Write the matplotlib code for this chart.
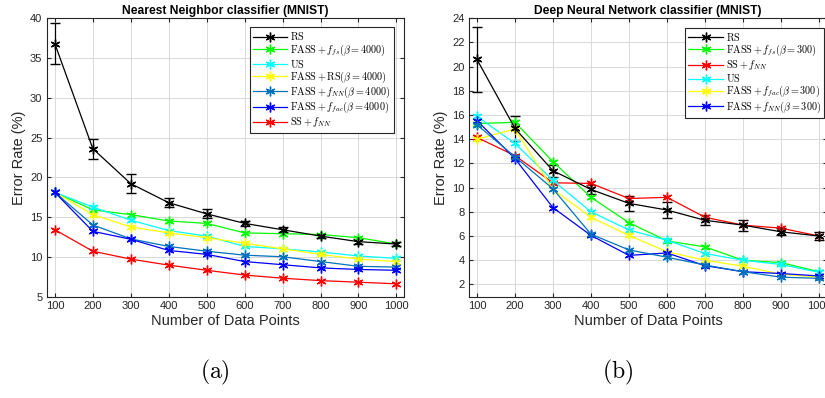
import matplotlib
matplotlib.use("Agg")
import matplotlib.pyplot as plt
import numpy as np

plt.rcParams['font.family'] = ['Liberation Sans', 'DejaVu Sans']
plt.rcParams['mathtext.fontset'] = 'cm'

n_points = [100, 200, 300, 400, 500, 600, 700, 800, 900, 1000]

# (a) nearest neighbour classifier
nn_rs = [36.8, 23.6, 19.2, 16.8, 15.4, 14.2, 13.4, 12.6, 11.9, 11.6]
nn_rs_err = [2.6, 1.25, 1.15, 0.6, 0.55, 0.35, 0.3, 0.3, 0.35, 0.3]
nn_fass_fs = [18.1, 15.9, 15.3, 14.5, 14.2, 13.0, 12.9, 12.8, 12.4, 11.6]
nn_us = [18.1, 16.25, 14.6, 13.3, 12.6, 11.3, 11.0, 10.6, 10.1, 9.8]
nn_fass_rs = [18.1, 15.3, 13.75, 13.0, 12.4, 11.7, 11.0, 10.3, 9.7, 9.4]
nn_fass_nn = [18.1, 14.0, 12.25, 11.3, 10.7, 10.2, 10.0, 9.4, 8.8, 8.7]
nn_fass_fac = [18.1, 13.2, 12.2, 10.8, 10.3, 9.4, 9.0, 8.6, 8.4, 8.3]
nn_ss_nn = [13.4, 10.7, 9.7, 8.95, 8.3, 7.7, 7.3, 7.0, 6.8, 6.6]
nn_labels = [r'$\mathrm{RS}$', r'$\mathrm{FASS}+f_{fs}(\beta=4000)$', r'$\mathrm{US}$',
             r'$\mathrm{FASS}+\mathrm{RS}(\beta=4000)$', r'$\mathrm{FASS}+f_{NN}(\beta=4000)$',
             r'$\mathrm{FASS}+f_{fac}(\beta=4000)$', r'$\mathrm{SS}+f_{NN}$']

# (b) deep neural network classifier
dnn_rs = [20.6, 14.9, 11.4, 9.85, 8.7, 8.15, 7.3, 6.9, 6.35, 6.0]
dnn_rs_err = [2.7, 1.05, 0.5, 0.4, 0.6, 0.7, 0.4, 0.45, 0.3, 0.3]
dnn_fass_fs = [15.3, 15.4, 12.15, 9.2, 7.1, 5.6, 5.1, 4.0, 3.8, 3.05]
dnn_ss_nn = [14.15, 12.65, 10.4, 10.35, 9.1, 9.2, 7.55, 6.9, 6.65, 6.0]
dnn_us = [15.9, 13.65, 10.6, 8.0, 6.5, 5.65, 4.55, 4.0, 3.65, 3.0]
dnn_fass_fac = [14.0, 14.85, 9.85, 7.55, 6.05, 4.7, 4.0, 3.5, 2.85, 2.6]
dnn_fass_nn = [15.55, 12.4, 8.35, 6.05, 4.4, 4.6, 3.55, 3.05, 2.9, 2.7]
dnn_extra = [15.2, 12.55, 9.9, 6.15, 4.85, 4.25, 3.6, 3.05, 2.6, 2.5]
dnn_labels = [r'$\mathrm{RS}$', r'$\mathrm{FASS}+f_{fs}(\beta=300)$', r'$\mathrm{SS}+f_{NN}$',
              r'$\mathrm{US}$', r'$\mathrm{FASS}+f_{fac}(\beta=300)$',
              r'$\mathrm{FASS}+f_{NN}(\beta=300)$']

steel = '#0072BD'
ast = (6, 2, 0)
dark = '#262626'

fig = plt.figure(figsize=(8.25, 3.98), dpi=100)
ax1 = fig.add_axes([0.0573, 0.255, 0.4324, 0.699])
ax2 = fig.add_axes([0.5689, 0.255, 0.4331, 0.699])

kw = dict(marker=ast, markersize=7, linewidth=0.9, markeredgewidth=1.0)

h1 = []
h1.append(ax1.errorbar(n_points, nn_rs, yerr=nn_rs_err, color='black', capsize=3.5,
                       elinewidth=0.9, **kw)[0])
h1 += ax1.plot(n_points, nn_fass_fs, color='#00ff00', **kw)
h1 += ax1.plot(n_points, nn_us, color='cyan', **kw)
h1 += ax1.plot(n_points, nn_fass_rs, color='yellow', **kw)
h1 += ax1.plot(n_points, nn_fass_nn, color=steel, **kw)
h1 += ax1.plot(n_points, nn_fass_fac, color='blue', **kw)
h1 += ax1.plot(n_points, nn_ss_nn, color='red', **kw)

h2 = []
h2.append(ax2.errorbar(n_points, dnn_rs, yerr=dnn_rs_err, color='black', capsize=3.5,
                       elinewidth=0.9, **kw)[0])
h2 += ax2.plot(n_points, dnn_fass_fs, color='#00ff00', **kw)
h2 += ax2.plot(n_points, dnn_ss_nn, color='red', **kw)
h2 += ax2.plot(n_points, dnn_us, color='cyan', **kw)
h2 += ax2.plot(n_points, dnn_fass_fac, color='yellow', **kw)
h2 += ax2.plot(n_points, dnn_fass_nn, color='blue', **kw)
ax2.plot(n_points, dnn_extra, color=steel, **kw)

for ax, title, ylim, yt in [
        (ax1, 'Nearest Neighbor classifier (MNIST)', (5, 40), np.arange(5, 41, 5)),
        (ax2, 'Deep Neural Network classifier (MNIST)', (1, 24), np.arange(2, 25, 2))]:
    ax.set_xlim(80, 1020)
    ax.set_ylim(*ylim)
    ax.set_xticks(n_points)
    ax.set_yticks(yt)
    ax.grid(True, color='#d9d9d9', linewidth=0.7)
    ax.set_axisbelow(True)
    ax.tick_params(direction='in', labelsize=8, colors=dark, length=3,
                   top=True, right=True)
    for s in ax.spines.values():
        s.set_color(dark)
        s.set_linewidth(0.8)
    ax.set_title(title, fontsize=8.7, fontweight='bold', pad=3)
    ax.set_xlabel('Number of Data Points', fontsize=10.5, color=dark, labelpad=2)
    ax.set_ylabel('Error Rate (%)', fontsize=10.5, color=dark, labelpad=3)

leg_kw = dict(loc='upper right', fontsize=7.3, handlelength=3.4, labelspacing=0.0,
              borderpad=0.3, handletextpad=0.3, fancybox=False, framealpha=1,
              edgecolor=dark, borderaxespad=0)
l1 = ax1.legend(h1, nn_labels, bbox_to_anchor=(0.4772, 0.9314),
                bbox_transform=fig.transFigure, **leg_kw)
l2 = ax2.legend(h2, dnn_labels, bbox_to_anchor=(0.9988, 0.930),
                bbox_transform=fig.transFigure, **leg_kw)
for l in (l1, l2):
    l.get_frame().set_linewidth(0.8)

fig.text(0.261, 0.05, r'$\mathrm{(a)}$', fontsize=17, ha='center')
fig.text(0.748, 0.05, r'$\mathrm{(b)}$', fontsize=17, ha='center')

fig.savefig('out.png', dpi=100)
